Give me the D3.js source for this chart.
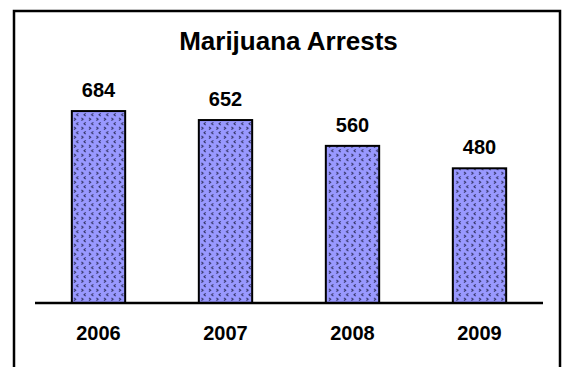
<!DOCTYPE html>
<html><head><meta charset="utf-8">
<script src="https://cdn.jsdelivr.net/npm/d3@7"></script>
<style>html,body{margin:0;padding:0;background:#fff;}svg{display:block;}</style>
</head><body>
<script>
const years = ["2006","2007","2008","2009"];
const arrests = [684, 652, 560, 480];
const title = "Marijuana Arrests";

const W = 562, H = 367;
const svg = d3.select("body").append("svg").attr("width", W).attr("height", H);

const defs = svg.append("defs");
const pat = defs.append("pattern").attr("id","chev").attr("patternUnits","userSpaceOnUse")
  .attr("width", 7.5).attr("height", 9).attr("x", 72).attr("y", 0);
pat.append("rect").attr("width",7.5).attr("height",9).attr("fill","#9999ff");
pat.append("path").attr("d","M2,0.8 L3.6,2.2 L2,3.6").attr("fill","none").attr("stroke","#2a2a55").attr("stroke-width",1);
pat.append("path").attr("d","M6.2,5.3 L4.6,6.7 L6.2,8.1").attr("fill","none").attr("stroke","#2a2a55").attr("stroke-width",1);

// frame
svg.append("rect").attr("x",14).attr("y",11).attr("width",546).attr("height",400)
  .attr("fill","none").attr("stroke","#000").attr("stroke-width",2.5);

const x = d3.scaleBand().domain(years).range([35, 543]).paddingInner(0.58).paddingOuter(0.29);
const y = d3.scaleLinear().domain([0, 800]).range([303, 303 - 800*0.2806]);

svg.append("text").attr("x", 288.5).attr("y", 50).attr("text-anchor","middle")
  .attr("font-family","Liberation Sans, Arial, sans-serif").attr("font-weight","bold")
  .attr("font-size", 26).text(title);

svg.selectAll("rect.bar").data(arrests).join("rect").attr("class","bar")
  .attr("x",(d,i)=>x(years[i])).attr("width",x.bandwidth())
  .attr("y",d=>y(d)).attr("height",d=>y(0)-y(d))
  .attr("fill","url(#chev)").attr("stroke","#000").attr("stroke-width",2);

svg.selectAll("text.val").data(arrests).join("text").attr("class","val")
  .attr("x",(d,i)=>x(years[i])+x.bandwidth()/2).attr("y",d=>y(d)-14)
  .attr("text-anchor","middle").attr("font-family","Liberation Sans, Arial, sans-serif")
  .attr("font-weight","bold").attr("font-size",20).text(d=>d);

const axis = d3.axisBottom(x).tickSize(0).tickPadding(0);
const g = svg.append("g").attr("transform","translate(0,303)").call(axis);
g.select(".domain").attr("stroke","#000").attr("stroke-width",2.5).attr("d","M35,0H543");
g.selectAll("text").attr("font-family","Liberation Sans, Arial, sans-serif")
  .attr("font-weight","bold").attr("font-size",20).attr("fill","#000")
  .attr("dy",null).attr("y",37);
</script>
</body></html>
